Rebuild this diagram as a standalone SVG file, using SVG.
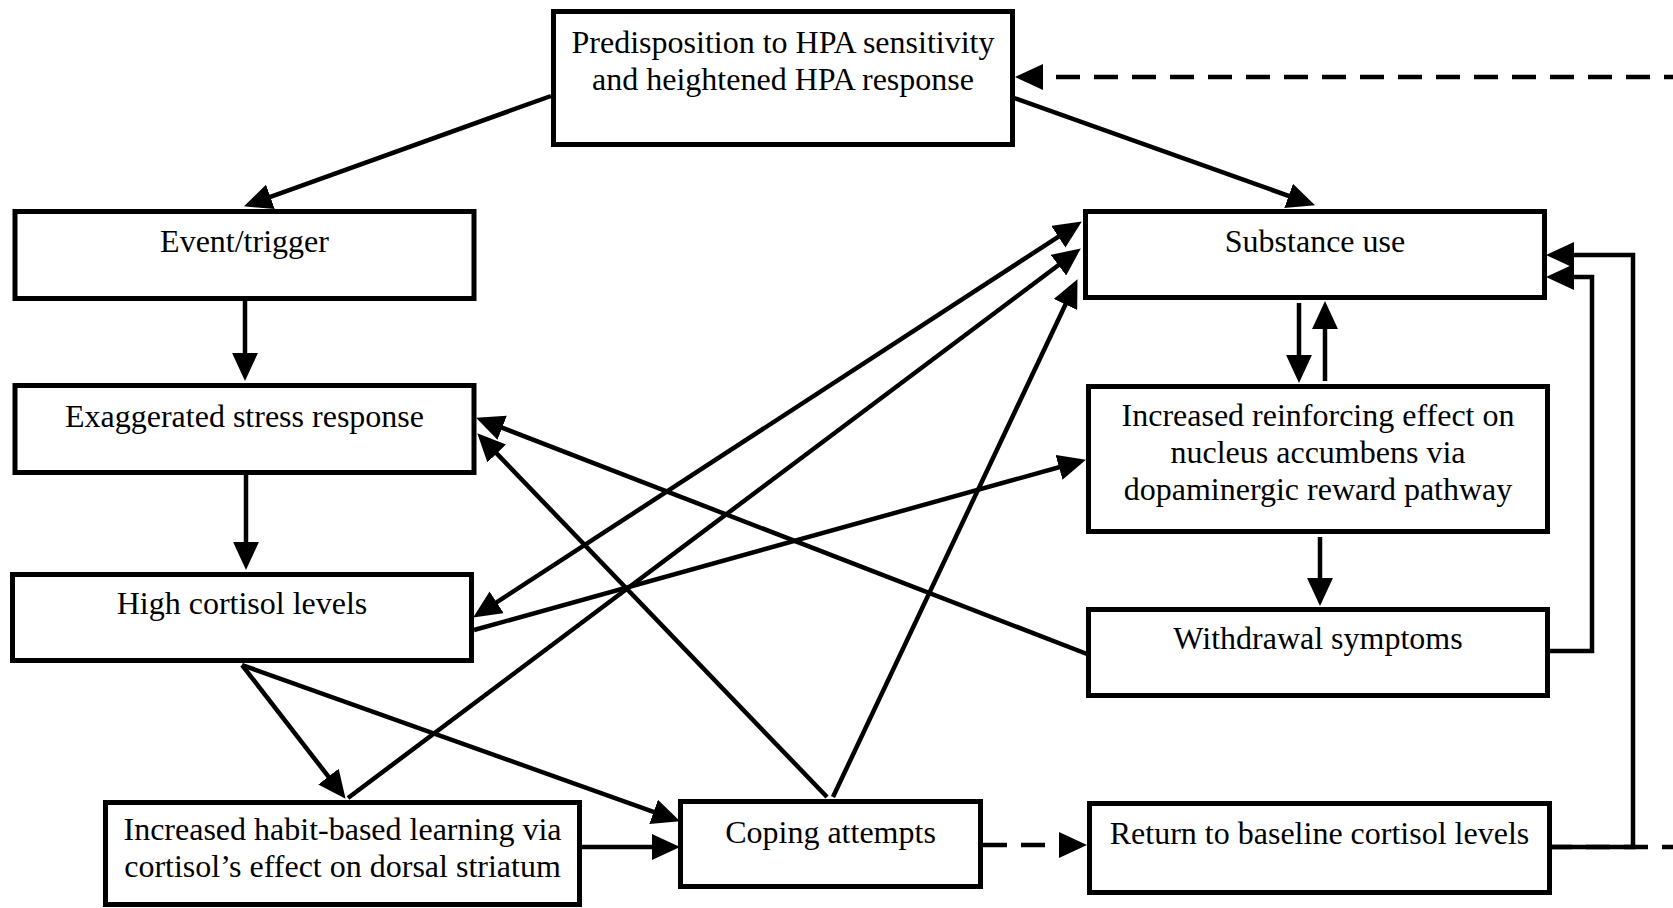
<svg xmlns="http://www.w3.org/2000/svg" width="1673" height="908" viewBox="0 0 1673 908">
<style>
.box{fill:#fff;stroke:#000;stroke-width:5}
.t{font-family:"Liberation Serif","Times New Roman",serif;font-size:32px;fill:#000;text-anchor:middle}
.c{fill:none;stroke:#000;stroke-width:4.5}
.d{fill:none;stroke:#000;stroke-width:4.5;stroke-dasharray:24 14}
</style>
<defs>
<marker id="ah" markerUnits="userSpaceOnUse" markerWidth="28" markerHeight="26" viewBox="0 0 26 24" refX="13" refY="12" orient="auto-start-reverse">
<path d="M0,0 L26,12 L0,24 z" fill="#000"/>
</marker>
</defs>
<rect width="1673" height="908" fill="#fff"/>
<g id="connectors">
<path class="c" d="M551,96 L257.2,201.6" marker-end="url(#ah)"/>
<path class="c" d="M1014,98 L1301.8,200.6" marker-end="url(#ah)"/>
<path class="c" d="M245,301 V367" marker-end="url(#ah)"/>
<path class="c" d="M246,475 V556" marker-end="url(#ah)"/>
<path class="c" d="M1299,303 V369" marker-end="url(#ah)"/>
<path class="c" d="M1325,381 V315" marker-end="url(#ah)"/>
<path class="c" d="M1320,537 V592" marker-end="url(#ah)"/>
<path class="c" d="M1550,651 H1592 V277 H1560" marker-end="url(#ah)"/>
<path class="c" d="M1552,847 H1633 V255 H1560" marker-end="url(#ah)"/>
<path class="d" d="M1673,77 H1029" style="stroke-dashoffset:15" marker-end="url(#ah)"/>
<path class="d" d="M983,845 H1073" marker-end="url(#ah)"/>
<path class="d" d="M1552,847 H1673" style="stroke-dashoffset:4"/>
<path class="c" d="M484.9,609.9 L1070.1,229.1" marker-start="url(#ah)" marker-end="url(#ah)"/>
<path class="c" d="M348,798 L1069.6,256.8" marker-end="url(#ah)"/>
<path class="c" d="M833,797 L1071.5,291.8" marker-end="url(#ah)"/>
<path class="c" d="M827,797 L487,443.4" marker-end="url(#ah)"/>
<path class="c" d="M1087,654 L489.1,422.7" marker-end="url(#ah)"/>
<path class="c" d="M474,630 L1072.5,463.5" marker-end="url(#ah)"/>
<path class="c" d="M242,665 L337,787.7" marker-end="url(#ah)"/>
<path class="c" d="M242,665 L666.8,816.6" marker-end="url(#ah)"/>
<path class="c" d="M582,847 H666" marker-end="url(#ah)"/>
</g>
<g id="node-predisposition">
<rect class="box" x="553.5" y="11.5" width="459" height="133"/>
<text class="t" x="783" y="53">Predisposition to HPA sensitivity</text>
<text class="t" x="783" y="90">and heightened HPA response</text>
</g>
<g id="node-event">
<rect class="box" x="15" y="211.5" width="459" height="87"/>
<text class="t" x="244.5" y="252">Event/trigger</text>
</g>
<g id="node-exaggerated">
<rect class="box" x="15" y="385.5" width="459" height="87"/>
<text class="t" x="244.5" y="427">Exaggerated stress response</text>
</g>
<g id="node-high-cortisol">
<rect class="box" x="12.5" y="574.5" width="459" height="86"/>
<text class="t" x="242" y="614">High cortisol levels</text>
</g>
<g id="node-habit">
<rect class="box" x="105.5" y="802.5" width="474" height="102"/>
<text class="t" x="342.5" y="840">Increased habit-based learning via</text>
<text class="t" x="342.5" y="877">cortisol’s effect on dorsal striatum</text>
</g>
<g id="node-coping">
<rect class="box" x="680.5" y="801.5" width="300" height="85"/>
<text class="t" x="830.5" y="843">Coping attempts</text>
</g>
<g id="node-return">
<rect class="box" x="1089.5" y="803.5" width="460" height="89"/>
<text class="t" x="1319.5" y="844">Return to baseline cortisol levels</text>
</g>
<g id="node-substance">
<rect class="box" x="1085.5" y="211.5" width="459" height="86"/>
<text class="t" x="1315" y="252">Substance use</text>
</g>
<g id="node-reinforcing">
<rect class="box" x="1088.5" y="386.5" width="459" height="145"/>
<text class="t" x="1318" y="426">Increased reinforcing effect on</text>
<text class="t" x="1318" y="463">nucleus accumbens via</text>
<text class="t" x="1318" y="500">dopaminergic reward pathway</text>
</g>
<g id="node-withdrawal">
<rect class="box" x="1088.5" y="609.5" width="459" height="86"/>
<text class="t" x="1318" y="649">Withdrawal symptoms</text>
</g>
</svg>
